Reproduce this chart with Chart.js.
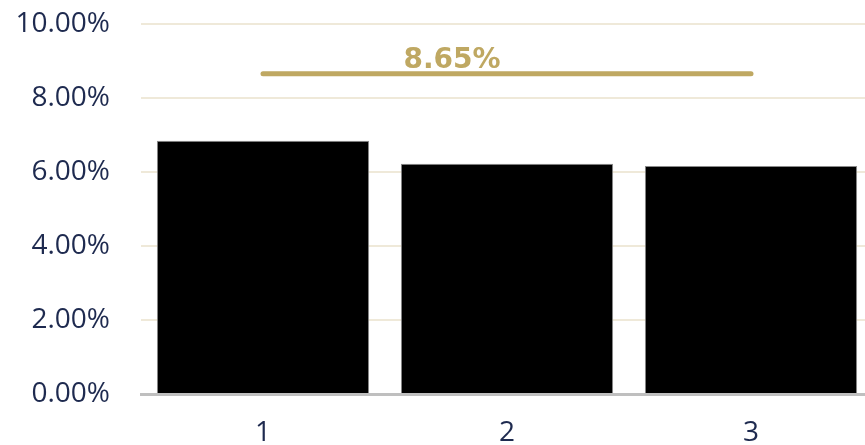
<!DOCTYPE html>
<html>
<head>
<meta charset="utf-8">
<script src="https://cdn.jsdelivr.net/npm/chart.js@4.4.0/dist/chart.umd.min.js"></script>
<style>
  html, body { margin: 0; padding: 0; background: #fff; }
  #wrap { width: 865px; height: 445px; overflow: hidden; }
  #mycanvas { display: block; margin-top: -24px; }
</style>
</head>
<body>
<div id="wrap"><canvas id="mycanvas" width="873" height="469"></canvas></div>
<script>
var categories = ["1", "2", "3"];
var barValues = [6.84, 6.22, 6.16];
var refValue = 8.65;
var refLine = [refValue, refValue, refValue];
var yTicks = [0, 2, 4, 6, 8, 10];

// draws the "8.65%" label above the reference line
var refLabel = {
  id: "refLabel",
  afterDatasetsDraw: function(chart) {
    var ctx = chart.ctx;
    var x = chart.scales.x.getPixelForValue(1) - 55;
    var y = chart.scales.y.getPixelForValue(refValue) - 6;
    ctx.save();
    ctx.font = "bold 28px 'DejaVu Sans'";
    ctx.fillStyle = "#BFA862";
    ctx.textAlign = "center";
    ctx.textBaseline = "alphabetic";
    ctx.fillText(refValue.toFixed(2) + "%", x, y);
    ctx.restore();
  }
};

var ctx = document.getElementById("mycanvas");

var chart = new Chart(ctx, {
  data: {
    labels: categories,
    datasets: [
      {
        type: "line",
        label: "ref",
        data: refLine,
        borderColor: "#BFA862",
        borderWidth: 5,
        borderCapStyle: "round",
        pointRadius: 0,
        fill: false,
        order: 0
      },
      {
        type: "bar",
        label: "values",
        data: barValues,
        backgroundColor: "#000000",
        borderColor: "#8a8a8a",
        borderWidth: 1,
        categoryPercentage: 1,
        barPercentage: 0.87,
        order: 1
      }
    ]
  },
  options: {
    responsive: false,
    animation: false,
    layout: { padding: 0 },
    plugins: { legend: { display: false }, tooltip: { enabled: false } },
    scales: {
      x: {
        afterFit: function(scale) { scale.height = 51; },
        grid: { display: false, drawTicks: false },
        border: { color: "#BFBFBF", width: 3 },
        ticks: {
          color: "#1E2A4F",
          font: { family: "'Open Sans'", size: 28, lineHeight: 1 },
          padding: 25
        }
      },
      y: {
        min: 0,
        max: 10,
        afterFit: function(scale) { scale.width = 141; },
        afterBuildTicks: function(scale) {
          scale.ticks = yTicks.map(function(v) { return { value: v }; });
        },
        grid: { color: "#EFE9D9", lineWidth: 2, drawTicks: false },
        border: { display: false },
        ticks: {
          color: "#1E2A4F",
          font: { family: "'Open Sans'", size: 28 },
          padding: 31,
          callback: function(v) { return v.toFixed(2) + "%"; }
        }
      }
    }
  },
  plugins: [refLabel]
});
</script>
</body>
</html>
